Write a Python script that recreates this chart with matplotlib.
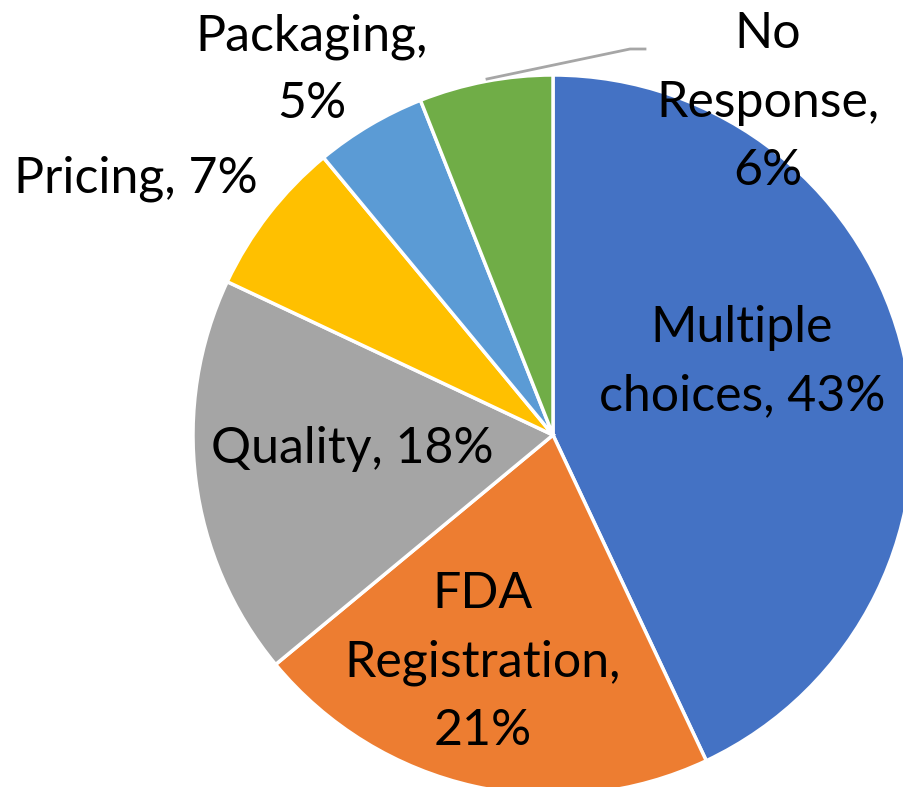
import matplotlib
matplotlib.use("Agg")
import matplotlib.pyplot as plt

plt.rcParams['font.family'] = ['Lato', 'DejaVu Sans']

# data
labels = ["Multiple\nchoices, 43%", "FDA\nRegistration,\n21%", "Quality, 18%",
          "Pricing, 7%", "Packaging,\n5%", "No\nResponse,\n6%"]
values = [43, 21, 18, 7, 5, 6]
colors = ["#4472C4", "#ED7D31", "#A5A5A5", "#FFC000", "#5B9BD5", "#70AD47"]

# label centre x and first-line baseline, pixel coords of the 904x787 picture
label_px = [(742, 342), (483, 608), (352, 463), (136, 193), (312, 50), (768, 48)]
line_gap = 68.5

W, H = 904, 787
cx, cy, R = 553, 435, 360

fig = plt.figure(figsize=(W / 100, H / 100), dpi=100)
ax = fig.add_axes([(cx - R) / W, (H - cy - R) / H, 2 * R / W, 2 * R / H])
wedges, _ = ax.pie(values, colors=colors, startangle=90, counterclock=False, radius=1,
                   wedgeprops=dict(edgecolor="white", linewidth=2.5))
ax.set_xlim(-1, 1)
ax.set_ylim(-1, 1)
ax.axis("off")

for lab, (px, py) in zip(labels, label_px):
    for i, line in enumerate(lab.split("\n")):
        ax.text((px - cx) / R, (cy - py - i * line_gap) / R, line, ha="center",
                va="baseline", fontsize=36, color="black")

# leader line for "No Response"
lx = [(487 - cx) / R, (630 - cx) / R, (645 - cx) / R]
ly = [(cy - 79) / R, (cy - 49) / R, (cy - 49) / R]
ax.plot(lx, ly, color="#A6A6A6", lw=2, clip_on=False)

fig.savefig("out.png", dpi=100)
